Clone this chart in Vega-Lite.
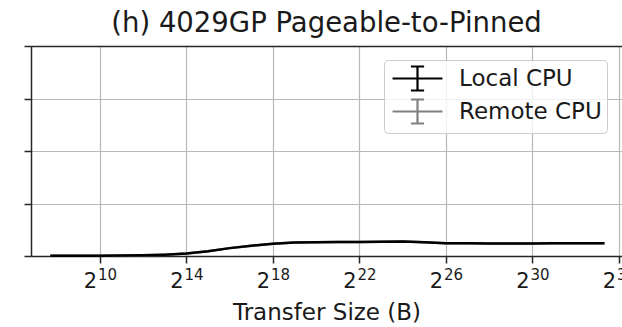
{
  "$schema": "https://vega.github.io/schema/vega-lite/v6.json",
  "width": 591,
  "height": 210,
  "autosize": {"type": "none"},
  "padding": {"left": 31, "top": 46, "right": 0, "bottom": 71},
  "background": "white",
  "title": {"text": "(h) 4029GP Pageable-to-Pinned", "fontSize": 27.5, "font": "DejaVu Sans", "fontWeight": "normal", "color": "#1a1a1a", "offset": 8, "anchor": "middle"},
  "config": {"view": {"stroke": null}, "font": "DejaVu Sans"},
  "datasets": {
    "cpu": [
      {"host": "Local CPU", "size": 208, "bw": 0.04},
      {"host": "Local CPU", "size": 1024, "bw": 0.05},
      {"host": "Local CPU", "size": 2048, "bw": 0.08},
      {"host": "Local CPU", "size": 4096, "bw": 0.13},
      {"host": "Local CPU", "size": 8192, "bw": 0.25},
      {"host": "Local CPU", "size": 16384, "bw": 0.46},
      {"host": "Local CPU", "size": 32768, "bw": 0.9},
      {"host": "Local CPU", "size": 65536, "bw": 1.5},
      {"host": "Local CPU", "size": 131072, "bw": 1.95},
      {"host": "Local CPU", "size": 262144, "bw": 2.33},
      {"host": "Local CPU", "size": 524288, "bw": 2.56},
      {"host": "Local CPU", "size": 1048576, "bw": 2.62},
      {"host": "Local CPU", "size": 2097152, "bw": 2.66},
      {"host": "Local CPU", "size": 4194304, "bw": 2.68},
      {"host": "Local CPU", "size": 8388608, "bw": 2.73},
      {"host": "Local CPU", "size": 16777216, "bw": 2.78},
      {"host": "Local CPU", "size": 33554432, "bw": 2.62},
      {"host": "Local CPU", "size": 67108864, "bw": 2.45},
      {"host": "Local CPU", "size": 134217728, "bw": 2.41},
      {"host": "Local CPU", "size": 268435456, "bw": 2.4},
      {"host": "Local CPU", "size": 536870912, "bw": 2.4},
      {"host": "Local CPU", "size": 1073741824, "bw": 2.4},
      {"host": "Local CPU", "size": 2147483648, "bw": 2.41},
      {"host": "Local CPU", "size": 4294967296, "bw": 2.41},
      {"host": "Local CPU", "size": 8589934592, "bw": 2.41},
      {"host": "Local CPU", "size": 10800000000, "bw": 2.42},
      {"host": "Remote CPU", "size": 208, "bw": 0.04},
      {"host": "Remote CPU", "size": 1024, "bw": 0.05},
      {"host": "Remote CPU", "size": 2048, "bw": 0.08},
      {"host": "Remote CPU", "size": 4096, "bw": 0.13},
      {"host": "Remote CPU", "size": 8192, "bw": 0.25},
      {"host": "Remote CPU", "size": 16384, "bw": 0.46},
      {"host": "Remote CPU", "size": 32768, "bw": 0.9},
      {"host": "Remote CPU", "size": 65536, "bw": 1.5},
      {"host": "Remote CPU", "size": 131072, "bw": 1.95},
      {"host": "Remote CPU", "size": 262144, "bw": 2.33},
      {"host": "Remote CPU", "size": 524288, "bw": 2.56},
      {"host": "Remote CPU", "size": 1048576, "bw": 2.62},
      {"host": "Remote CPU", "size": 2097152, "bw": 2.66},
      {"host": "Remote CPU", "size": 4194304, "bw": 2.68},
      {"host": "Remote CPU", "size": 8388608, "bw": 2.73},
      {"host": "Remote CPU", "size": 16777216, "bw": 2.78},
      {"host": "Remote CPU", "size": 33554432, "bw": 2.62},
      {"host": "Remote CPU", "size": 67108864, "bw": 2.45},
      {"host": "Remote CPU", "size": 134217728, "bw": 2.41},
      {"host": "Remote CPU", "size": 268435456, "bw": 2.4},
      {"host": "Remote CPU", "size": 536870912, "bw": 2.4},
      {"host": "Remote CPU", "size": 1073741824, "bw": 2.4},
      {"host": "Remote CPU", "size": 2147483648, "bw": 2.41},
      {"host": "Remote CPU", "size": 4294967296, "bw": 2.41},
      {"host": "Remote CPU", "size": 8589934592, "bw": 2.41},
      {"host": "Remote CPU", "size": 10800000000, "bw": 2.42}
    ]
  },
  "data": {"name": "cpu"},
  "layer": [
    {
      "transform": [{"filter": "datum.host == 'Remote CPU'"}],
      "mark": {"type": "line", "strokeWidth": 2.5},
      "encoding": {
        "x": {
          "field": "size", "type": "quantitative",
          "scale": {"type": "log", "base": 2, "domain": [112.2, 18930000000], "nice": false, "zero": false},
          "axis": {
            "orient": "bottom",
            "values": [1024, 16384, 262144, 4194304, 67108864, 1073741824, 17179869184],
            "labelExpr": "'2'",
            "labelFontSize": 21, "labelColor": "#1a1a1a", "labelOffset": -10, "labelPadding": 7,
            "labelFlush": false, "labelOverlap": false, "labelBound": false,
            "tickSize": 7, "tickColor": "#262626", "tickWidth": 1.5,
            "domain": true, "domainColor": "#262626", "domainWidth": 1.5,
            "grid": true, "gridColor": "#b8b8b8", "gridWidth": 1.2,
            "title": "Transfer Size (B)", "titleFontSize": 23, "titleFontWeight": "normal", "titleColor": "#1a1a1a", "titlePadding": 10
          }
        },
        "y": {
          "field": "bw", "type": "quantitative",
          "scale": {"domain": [0, 40], "nice": false},
          "axis": {
            "values": [0, 10, 20, 30, 40], "labels": false, "title": null,
            "tickSize": 7, "tickColor": "#262626", "tickWidth": 1.5,
            "domain": true, "domainColor": "#262626", "domainWidth": 1.5,
            "grid": true, "gridColor": "#b8b8b8", "gridWidth": 1.2
          }
        },
        "color": {
          "field": "host", "type": "nominal",
          "scale": {"domain": ["Local CPU", "Remote CPU"], "range": ["#000000", "#808080"]},
          "legend": {
            "orient": "none", "legendX": 353, "legendY": 14, "title": null,
            "symbolType": "M-2.08,0H2.08M0,-1V1M-0.55,-1H0.55M-0.55,1H0.55",
            "symbolSize": 576, "symbolStrokeWidth": 2.2, "symbolOffset": 15,
            "labelFontSize": 23, "labelColor": "#1a1a1a", "labelOffset": 28,
            "labelExpr": "datum.label + ' '",
            "padding": 5, "rowPadding": 0,
            "fillColor": "rgba(255,255,255,0.8)", "strokeColor": "#cccccc", "cornerRadius": 4
          }
        }
      }
    },
    {
      "transform": [{"filter": "datum.host == 'Local CPU'"}],
      "mark": {"type": "line", "strokeWidth": 2.5},
      "encoding": {
        "x": {
          "field": "size", "type": "quantitative",
          "scale": {"type": "log", "base": 2, "domain": [112.2, 18930000000], "nice": false, "zero": false},
          "axis": {
            "orient": "bottom",
            "values": [1024, 16384, 262144, 4194304, 67108864, 1073741824, 17179869184],
            "labelExpr": "round(log(datum.value)/LN2) + ''",
            "labelFontSize": 15, "labelColor": "#1a1a1a", "labelOffset": 7, "labelPadding": 11,
            "labelFlush": false, "labelOverlap": false, "labelBound": false,
            "ticks": false, "tickSize": 0, "domain": false, "grid": false, "title": null
          }
        },
        "y": {
          "field": "bw", "type": "quantitative",
          "scale": {"domain": [0, 40], "nice": false},
          "axis": {
            "values": [0, 10, 20, 30, 40], "labels": false, "title": null,
            "tickSize": 7, "tickColor": "#262626", "tickWidth": 1.5,
            "domain": true, "domainColor": "#262626", "domainWidth": 1.5,
            "grid": true, "gridColor": "#b8b8b8", "gridWidth": 1.2
          }
        },
        "color": {"field": "host", "type": "nominal"}
      }
    },
    {
      "transform": [{"filter": "datum.host == 'Local CPU'"}],
      "mark": {"type": "line", "strokeOpacity": 0},
      "encoding": {
        "x": {
          "field": "size", "type": "quantitative",
          "scale": {"type": "log", "base": 2, "domain": [112.2, 18930000000], "nice": false, "zero": false},
          "axis": {
            "orient": "top", "labels": false, "ticks": false, "grid": false, "title": null,
            "domain": true, "domainColor": "#262626", "domainWidth": 1.5
          }
        },
        "y": {
          "field": "bw", "type": "quantitative",
          "scale": {"domain": [0, 40], "nice": false},
          "axis": {
            "values": [0, 10, 20, 30, 40], "labels": false, "title": null,
            "tickSize": 7, "tickColor": "#262626", "tickWidth": 1.5,
            "domain": true, "domainColor": "#262626", "domainWidth": 1.5,
            "grid": true, "gridColor": "#b8b8b8", "gridWidth": 1.2
          }
        }
      }
    }
  ],
  "resolve": {"axis": {"x": "independent"}}
}
